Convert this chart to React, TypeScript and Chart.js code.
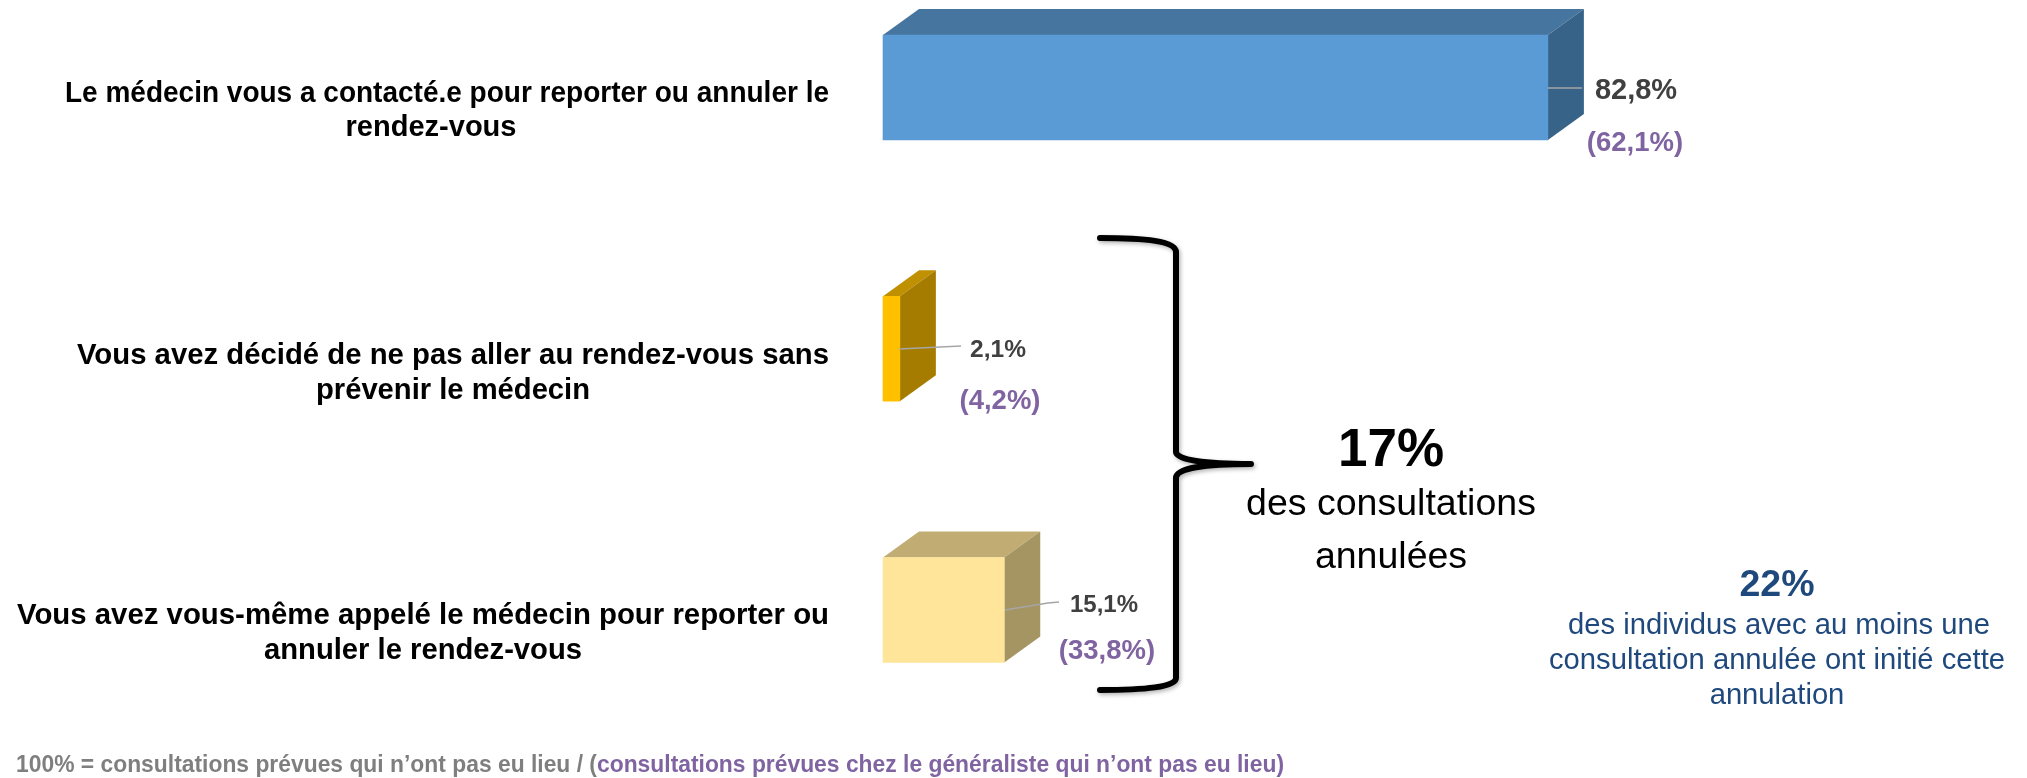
import React, { useEffect, useRef } from "react";
import { Chart, registerables } from "chart.js";

Chart.register(...registerables);

const categories = [
  ["Le médecin vous a contacté.e pour reporter ou annuler le", "rendez-vous"],
  ["Vous avez décidé de ne pas aller au rendez-vous sans", "prévenir le médecin"],
  ["Vous avez vous-même appelé le médecin pour reporter ou", "annuler le rendez-vous"],
];
const consultationShare = [82.8, 2.1, 15.1];
const generalistShare = [62.1, 4.2, 33.8];

const frontColors = ["#5B9BD5", "#FFC000", "#FEE599"];
const topColors = ["#4675A0", "#BF9000", "#C1AD73"];
const sideColors = ["#376389", "#A67C00", "#A59563"];

const DEPTH_X = 36;
const DEPTH_Y = 26;
const FONT = '"Liberation Sans", Arial, sans-serif';
const pct = (v: number) => v.toFixed(1).replace(".", ",") + "%";

const valueLayout = [
  { size: 29, vx: 1636, vy: 91, px: 1635, py: 143, psize: 27.5, line: [[1548, 88], [1582, 88]] },
  { size: 24.5, vx: 998, vy: 350, px: 1000, py: 401, psize: 27.5, line: [[899, 349], [961, 346]] },
  { size: 24, vx: 1104, vy: 605, px: 1107, py: 651, psize: 27.5, line: [[1005, 610], [1048, 603], [1059, 602]] },
];
const labelLayout = [
  { y: [94, 128], cx: [447, 431], w: [764, 171] },
  { y: [356, 391], cx: [453, 453], w: [752, 274] },
  { y: [616, 651], cx: [423, 423], w: [812, 318] },
];

const threeD = {
  id: "threeD",
  beforeDatasetsDraw(chart: any) {
    const { ctx } = chart;
    chart.getDatasetMeta(0).data.forEach((bar: any, i: number) => {
      const left = bar.base;
      const right = bar.x;
      const top = bar.y - bar.height / 2;
      const bottom = bar.y + bar.height / 2;
      ctx.save();
      ctx.fillStyle = topColors[i];
      ctx.beginPath();
      ctx.moveTo(left, top);
      ctx.lineTo(left + DEPTH_X, top - DEPTH_Y);
      ctx.lineTo(right + DEPTH_X, top - DEPTH_Y);
      ctx.lineTo(right, top);
      ctx.closePath();
      ctx.fill();
      ctx.fillStyle = sideColors[i];
      ctx.beginPath();
      ctx.moveTo(right, top);
      ctx.lineTo(right + DEPTH_X, top - DEPTH_Y);
      ctx.lineTo(right + DEPTH_X, bottom - DEPTH_Y);
      ctx.lineTo(right, bottom);
      ctx.closePath();
      ctx.fill();
      ctx.restore();
    });
  },
};

function centered(ctx: any, text: string, x: number, y: number, font: string, color: string) {
  ctx.font = font;
  ctx.fillStyle = color;
  ctx.textAlign = "center";
  ctx.textBaseline = "middle";
  ctx.fillText(text, x, y);
}

function fitted(ctx: any, text: string, cx: number, y: number, width: number, font: string, color: string) {
  ctx.save();
  ctx.font = font;
  ctx.translate(cx, y);
  ctx.scale(width / ctx.measureText(text).width, 1);
  centered(ctx, text, 0, 0, font, color);
  ctx.restore();
}

const annotations = {
  id: "annotations",
  afterDatasetsDraw(chart: any) {
    const { ctx } = chart;
    ctx.save();
    // category labels
    categories.forEach((lines, i) => {
      const l = labelLayout[i];
      lines.forEach((text, k) => fitted(ctx, text, l.cx[k], l.y[k], l.w[k], `bold 30px ${FONT}`, "#000000"));
    });
    // leader lines and value labels
    valueLayout.forEach((l, i) => {
      ctx.strokeStyle = "#A6A6A6";
      ctx.lineWidth = 1.5;
      ctx.beginPath();
      l.line.forEach((p, k) => (k === 0 ? ctx.moveTo(p[0], p[1]) : ctx.lineTo(p[0], p[1])));
      ctx.stroke();
      centered(ctx, pct(consultationShare[i]), l.vx, l.vy, `bold ${l.size}px ${FONT}`, "#404040");
      centered(ctx, `(${pct(generalistShare[i])})`, l.px, l.py, `bold ${l.psize}px ${FONT}`, "#8064A2");
    });

    // brace
    ctx.strokeStyle = "#000000";
    ctx.lineWidth = 6;
    ctx.lineCap = "round";
    ctx.lineJoin = "round";
    ctx.shadowColor = "rgba(0,0,0,0.3)";
    ctx.shadowBlur = 4;
    ctx.shadowOffsetX = 1.5;
    ctx.shadowOffsetY = 2;
    ctx.beginPath();
    ctx.moveTo(1100, 238);
    ctx.bezierCurveTo(1145, 238, 1176, 241, 1176, 252);
    ctx.lineTo(1176, 452);
    ctx.bezierCurveTo(1176, 460, 1205, 464, 1251, 464);
    ctx.bezierCurveTo(1205, 464, 1176, 468, 1176, 478);
    ctx.lineTo(1176, 678);
    ctx.bezierCurveTo(1176, 687, 1145, 690, 1100, 690);
    ctx.stroke();
    ctx.shadowColor = "transparent";
    ctx.shadowBlur = 0;
    ctx.shadowOffsetX = 0;
    ctx.shadowOffsetY = 0;

    // totals
    centered(ctx, "17%", 1391, 451, `bold 53px ${FONT}`, "#000000");
    centered(ctx, "des consultations", 1391, 505, `37.5px ${FONT}`, "#000000");
    centered(ctx, "annulées", 1391, 558, `37.5px ${FONT}`, "#000000");

    centered(ctx, "22%", 1777, 586, `bold 37.5px ${FONT}`, "#1F497D");
    centered(ctx, "des individus avec au moins une", 1779, 626, `29.2px ${FONT}`, "#1F497D");
    centered(ctx, "consultation annulée ont initié cette", 1777, 661, `29.2px ${FONT}`, "#1F497D");
    centered(ctx, "annulation", 1777, 696, `29.2px ${FONT}`, "#1F497D");

    // footnote
    const partA = "100% = consultations prévues qui n’ont pas eu lieu / (";
    const partB = "consultations prévues chez le généraliste qui n’ont pas eu lieu)";
    ctx.font = `bold 24px ${FONT}`;
    ctx.textAlign = "left";
    ctx.textBaseline = "middle";
    const wA = ctx.measureText(partA).width;
    const wB = ctx.measureText(partB).width;
    const sx = 1268 / (wA + wB);
    ctx.translate(16, 765);
    ctx.scale(sx, 1);
    ctx.fillStyle = "#7F7F7F";
    ctx.fillText(partA, 0, 0);
    ctx.fillStyle = "#8064A2";
    ctx.fillText(partB, wA, 0);
    ctx.restore();
  },
};

export default function App() {
  const ref = useRef<HTMLCanvasElement>(null);
  useEffect(() => {
    const chart = new Chart(ref.current as HTMLCanvasElement, {
      type: "bar",
      data: {
        labels: categories as any,
        datasets: [
          {
            data: consultationShare,
            backgroundColor: frontColors,
            borderWidth: 0,
            barThickness: 105,
            clip: false as any,
          },
        ],
      },
      options: {
        indexAxis: "y",
        responsive: false,
        animation: false,
        layout: { padding: { top: 87.5, bottom: 168, left: 0, right: 0 } },
        plugins: { legend: { display: false }, tooltip: { enabled: false }, title: { display: false } },
        scales: {
          x: { display: false, min: 0, max: (2027 - 883) / 8.03, grid: { display: false } },
          y: {
            offset: false,
            grid: { display: false },
            border: { display: false },
            afterFit(scale: any) {
              scale.width = 883;
            },
            ticks: { display: false },
          },
        },
      },
      plugins: [threeD, annotations],
    } as any);
    return () => chart.destroy();
  }, []);
  return (
    <div style={{ position: "fixed", left: 0, top: 0, width: 2027, height: 778, background: "#fff" }}>
      <canvas ref={ref} width={2027} height={778} style={{ display: "block" }} />
    </div>
  );
}
